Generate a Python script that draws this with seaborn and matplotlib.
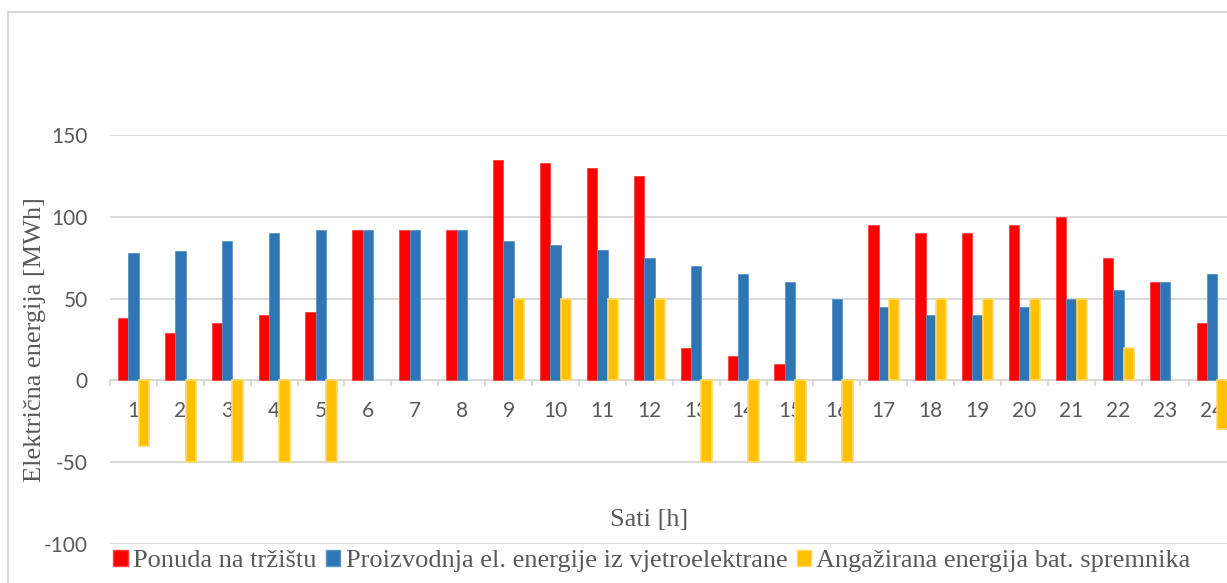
import pandas as pd
import seaborn as sns
import matplotlib.pyplot as plt
from matplotlib.patches import Rectangle, Patch

# data
hours = list(range(1, 25))
ponuda = [38, 29, 35, 40, 42, 92, 92, 92, 135, 133, 130, 125,
          20, 15, 10, 0, 95, 90, 90, 95, 100, 75, 60, 35]
proizvodnja = [78, 79, 85, 90, 92, 92, 92, 92, 85, 83, 80, 75,
               70, 65, 60, 50, 45, 40, 40, 45, 50, 55, 60, 65]
baterija = [-40, -50, -50, -50, -50, 0, 0, 0, 50, 50, 50, 50,
            -50, -50, -50, -50, 50, 50, 50, 50, 50, 20, 0, -30]

series_names = ["Ponuda na tržištu",
                "Proizvodnja el. energije iz vjetroelektrane",
                "Angažirana energija bat. spremnika"]
y_ticks = [-100, -50, 0, 50, 100, 150]

colors = {series_names[0]: "#FF0000",
          series_names[1]: "#2E75B6",
          series_names[2]: "#FFC000"}
edges = {series_names[0]: "#FF4040",
         series_names[1]: "#5B93C8",
         series_names[2]: "#FFD966"}

df = pd.DataFrame({
    "Sat": hours * 3,
    "Serija": [series_names[0]] * 24 + [series_names[1]] * 24 + [series_names[2]] * 24,
    "MWh": ponuda + proizvodnja + baterija,
})

sns.set_style("white")
plt.rcParams["font.family"] = ["Lato", "DejaVu Sans"]
plt.rcParams["axes.unicode_minus"] = False
grid_c = "#D9D9D9"
text_c = "#595959"
serif = ["Liberation Serif", "DejaVu Serif"]

fig = plt.figure(figsize=(12.27, 5.83), dpi=100)
ax = fig.add_axes([110 / 1227, 1 - 544 / 583, 1125.6 / 1227, (544 - 135) / 583])

sns.barplot(data=df, x="Sat", y="MWh", hue="Serija", hue_order=series_names,
            palette=colors, saturation=1, errorbar=None, width=0.665,
            dodge=True, legend=False, ax=ax, zorder=3)

# outlines like the Excel look, nothing on the empty (zero) bars
for cont, name in zip(ax.containers, series_names):
    for bar in cont:
        if bar.get_height() == 0:
            bar.set_linewidth(0)
        else:
            bar.set_edgecolor(edges[name])
            bar.set_linewidth(1.2 if name == series_names[2] else 0.6)

ax.set_ylim(-100, 150)
ax.set_xlim(-0.5, 23.5)
ax.set_yticks(y_ticks)
ax.yaxis.grid(True, color=grid_c, linewidth=1.5, zorder=0)
ax.set_axisbelow(True)
for s in ["top", "right", "left"]:
    ax.spines[s].set_visible(False)
ax.spines["bottom"].set_position(("data", 0))
ax.spines["bottom"].set_color(grid_c)
ax.spines["bottom"].set_linewidth(1.5)

ax.set_xticks(range(24))
ax.set_xticklabels([str(h) for h in hours])
ax.set_xticks([i - 0.5 for i in range(25)], minor=True)
ax.tick_params(axis="x", which="both", bottom=True)
ax.tick_params(axis="x", which="major", length=0, pad=15, labelsize=15, labelcolor=text_c)
ax.tick_params(axis="x", which="minor", length=4, width=1.5, color=grid_c, direction="out")
ax.tick_params(axis="y", length=0, pad=16, labelsize=15, labelcolor=text_c)
ax.set_xlabel("")
ax.set_ylabel("")

fig.text(35 / 1227, 1 - 340 / 583, "Električna energija [MWh]", rotation=90,
         ha="center", va="center", fontsize=19, color=text_c, family=serif)
fig.text(649 / 1227, 1 - 520 / 583, "Sati [h]", ha="center", va="center",
         fontsize=19, color=text_c, family=serif)

handles = [Patch(facecolor=colors[n], edgecolor=edges[n], label=n) for n in series_names]
fig.legend(handles=handles, loc="center", bbox_to_anchor=(652 / 1227, 22 / 583),
           ncol=3, frameon=False, handlelength=0.55, handleheight=0.55,
           handletextpad=0.2, columnspacing=0.35, borderpad=0,
           prop={"family": serif, "size": 19}, labelcolor=text_c)

# light chart border, cut off at right and bottom like the source image
fig.patches.append(Rectangle((8 / 1227, -0.1), 1.2, (583 - 12) / 583 + 0.1,
                             transform=fig.transFigure, fill=False,
                             edgecolor=grid_c, linewidth=1.5))

fig.savefig("out.png", dpi=100)
